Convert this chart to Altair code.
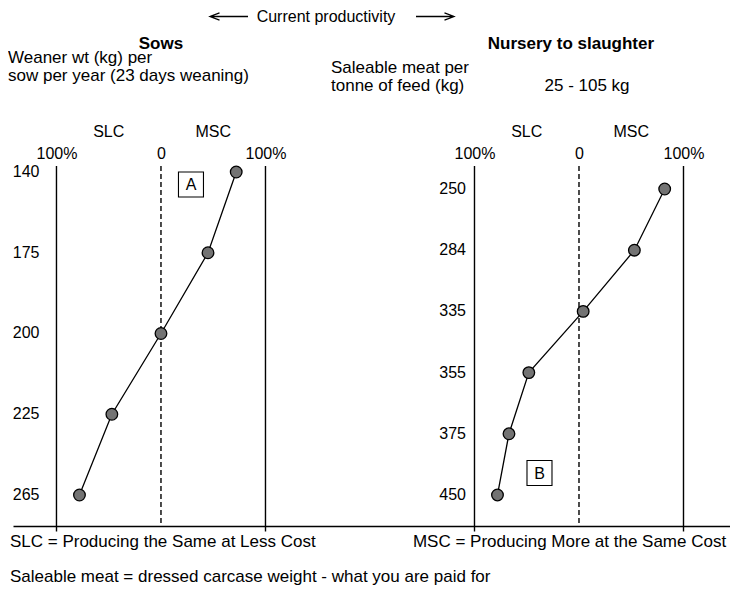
import altair as alt
import pandas as pd

FONT = "Liberation Sans"

# ---- data ----
# Sows: weaner weight (kg) per sow per year, and position on the SLC(-) / MSC(+) scale (%)
sows_weaner = [140, 175, 200, 225, 265]
sows_pct = [72, 45, 0, -47, -78]

# Nursery to slaughter: saleable meat per tonne of feed (kg), and position (%)
meat_per_tonne = [250, 284, 335, 355, 375, 450]
meat_pct = [82, 53, 4, -48, -67, -78]

guide_pct = [-100, 0, 100]
guide_kind = ["solid", "dashed", "solid"]

PANEL_OFFSET = 400  # the right panel sits 400 % units to the right on the shared x scale

sows_df = pd.DataFrame({"value": sows_weaner, "pct": sows_pct,
                        "slot": list(range(len(sows_weaner)))})
meat_df = pd.DataFrame({"value": meat_per_tonne, "pct": meat_pct,
                        "slot": list(range(len(meat_per_tonne)))})
guides_df = pd.DataFrame({
    "pct": guide_pct + guide_pct,
    "kind": guide_kind + guide_kind,
    "panel": [0] * 3 + [1] * 3,
})

xs = alt.Scale(domain=[-141.6, 544.5], nice=False, zero=False)
ys_sows = alt.Scale(domain=[-0.0743, 4.384], reverse=True, nice=False, zero=False)
ys_meat = alt.Scale(domain=[-0.376, 5.507], reverse=True, nice=False, zero=False)

# ---- reference lines, with the top percentage axis ----
rules = alt.Chart(guides_df).transform_calculate(
    gx=f"datum.pct + datum.panel * {PANEL_OFFSET}"
).mark_rule(color="black", strokeWidth=1.4).encode(
    x=alt.X("gx:Q", scale=xs, axis=alt.Axis(
        orient="top", values=[-100, 0, 100, 300, 400, 500],
        labelExpr="datum.value == 0 || datum.value == 400 ? '0' : '100%'",
        domain=False, ticks=False, grid=False, title=None,
        labelFont=FONT, labelFontSize=16, labelColor="black",
        labelPadding=8, labelBaseline="alphabetic", labelFlush=False, labelOverlap=False)),
    strokeDash=alt.StrokeDash("kind:N", scale=alt.Scale(domain=["solid", "dashed"],
                                                        range=[[1, 0], [5, 3]]), legend=None),
)

# ---- sows panel ----
sows_base = alt.Chart(sows_df).encode(
    y=alt.Y("slot:Q", scale=ys_sows, axis=None),
    order="slot:Q",
)
sows_line = sows_base.mark_line(color="black", strokeWidth=1.3).encode(
    x=alt.X("pct:Q", scale=xs, axis=alt.Axis(
        orient="bottom", values=[-100, 100, 300, 500], labels=False,
        domain=True, domainColor="black", domainWidth=1.4,
        ticks=True, tickColor="black", tickSize=5, tickWidth=1.4,
        grid=False, title=None)),
)
sows_pts = sows_base.mark_circle(size=135, fill="#737373", stroke="black",
                                 strokeWidth=1.3, opacity=1).encode(
    x=alt.X("pct:Q", scale=xs, axis=None))
sows_lbl = sows_base.mark_text(align="right", baseline="middle", font=FONT,
                               fontSize=16, color="black").encode(
    x=alt.XDatum(-116.3, type="quantitative", scale=xs, axis=None),
    text="value:N")

# ---- nursery to slaughter panel ----
meat_base = alt.Chart(meat_df).transform_calculate(
    gx=f"datum.pct + {PANEL_OFFSET}"
).encode(
    y=alt.Y("slot:Q", scale=ys_meat, axis=None),
    order="slot:Q",
)
meat_line = meat_base.mark_line(color="black", strokeWidth=1.3).encode(
    x=alt.X("gx:Q", scale=xs, axis=None))
meat_pts = meat_base.mark_circle(size=135, fill="#737373", stroke="black",
                                 strokeWidth=1.3, opacity=1).encode(
    x=alt.X("gx:Q", scale=xs, axis=None))
meat_lbl = meat_base.mark_text(align="right", baseline="middle", font=FONT,
                               fontSize=16, color="black").encode(
    x=alt.XDatum(291.9, type="quantitative", scale=xs, axis=None),
    text="value:N")


# ---- annotations ----
def note(text, x, y, align="left", size=17, weight="normal", baseline="alphabetic"):
    return alt.Chart(pd.DataFrame({"t": [text]})).mark_text(
        align=align, baseline=baseline, font=FONT, fontSize=size,
        fontWeight=weight, color="black").encode(
        x=alt.XDatum(x, type="quantitative", scale=xs, axis=None),
        y=alt.value(y),
        text="t:N")


def arrow(path, x, y):
    return alt.Chart(pd.DataFrame({"t": [""]})).mark_point(
        shape=path, size=1444, filled=False, stroke="black", strokeWidth=1.3,
        opacity=1).encode(
        x=alt.XDatum(x, type="quantitative", scale=xs, axis=None),
        y=alt.value(y))


def box(label, x, y):
    frame = alt.Chart(pd.DataFrame({"t": [label]})).mark_point(
        shape="square", size=625, filled=False, stroke="black", strokeWidth=1.1,
        opacity=1).encode(
        x=alt.XDatum(x, type="quantitative", scale=xs, axis=None),
        y=alt.value(y))
    return [frame, note(label, x, y + 0.5, align="center", size=16, baseline="middle")]


LEFT_ARROW = "M-1,0L1,0M-0.5,-0.19L-1,0L-0.5,0.19"
RIGHT_ARROW = "M-1,0L1,0M0.5,-0.19L1,0L0.5,0.19"

notes = [
    arrow(LEFT_ARROW, 65.1, -149.5),
    arrow(RIGHT_ARROW, 262.2, -149.5),
    note("Current productivity", 157.9, -144, align="center", size=16),
    note("Sows", 0, -117, align="center", weight="bold"),
    note("Nursery to slaughter", 392.3, -117, align="center", weight="bold"),
    note("Weaner wt (kg) per", -146.4, -103),
    note("sow per year (23 days weaning)", -146.4, -85),
    note("Saleable meat per", 162.7, -93),
    note("tonne of feed (kg)", 162.7, -75),
    note("25 - 105 kg", 407.7, -75, align="center"),
    note("SLC", -50, -29, align="center", size=16),
    note("MSC", 50, -29, align="center", size=16),
    note("SLC", 350, -29, align="center", size=16),
    note("MSC", 450, -29, align="center", size=16),
    note("SLC = Producing the Same at Less Cost", -144.5, 381),
    note("MSC = Producing More at the Same Cost", 241.1, 381),
    note("Saleable meat = dressed carcase weight - what you are paid for", -144.5, 416),
]
notes += box("A", 28.7, 18.5)
notes += box("B", 362.2, 307)

chart = alt.layer(
    rules, sows_line, meat_line, sows_pts, meat_pts, sows_lbl, meat_lbl, *notes
).resolve_scale(
    y="independent"
).properties(
    width=717, height=360,
    autosize=alt.AutoSizeParams(type="none"),
    padding={"left": 5, "top": 158, "right": 0, "bottom": 60},
).configure_view(stroke=None)

chart.save("out.html", embed_options={"renderer": "svg", "actions": False})
